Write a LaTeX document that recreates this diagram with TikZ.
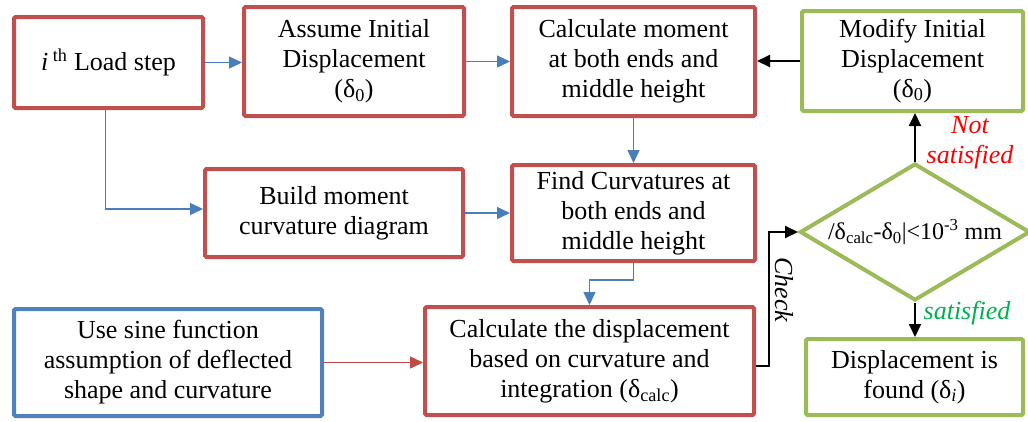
\documentclass[tikz,border=0pt]{standalone}
\usepackage{fontspec}
\setmainfont{Liberation Serif}
\newfontfamily\diagramfont{Liberation Serif}
\usetikzlibrary{arrows.meta,shapes.geometric}
\definecolor{boxred}{HTML}{C0504D}
\definecolor{boxblue}{HTML}{4F81BD}
\definecolor{boxgreen}{HTML}{9BBB59}
\definecolor{arrblue}{HTML}{4A7EBB}
\definecolor{arrred}{HTML}{BE4B48}
\definecolor{okgreen}{HTML}{00B050}
\definecolor{nored}{HTML}{FF0000}
\newcommand\boxfont{\diagramfont\fontsize{26}{30}\selectfont}
% centred block of lines
\newcommand\ctrlines[1]{\begin{tabular}{@{}c@{}}#1\end{tabular}}
\tikzset{
  stepbox/.style={draw=#1, line width=4pt, rounded corners=1.5pt, fill=white,
    inner sep=0pt, font=\boxfont},
  decision/.style={draw=boxgreen, line width=4pt, diamond, aspect=1.7,
    inner sep=0pt, font=\diagramfont\fontsize{24}{28}\selectfont},
  flowblue/.style={draw=arrblue, line width=1.5pt,
    -{Triangle[length=13pt,width=12pt]}},
  flowred/.style={draw=arrred, line width=1.5pt,
    -{Triangle[length=13pt,width=12pt]}},
  flowblack/.style={draw=black, line width=2pt,
    -{Triangle[length=13pt,width=12pt]}},
  tag/.style={font=\boxfont\itshape}
}
\begin{document}
\begin{tikzpicture}[x=1pt,y=-1pt]
\useasboundingbox (0,0) rectangle (1028,421);

% process boxes
\node[stepbox=boxred, minimum width=189, minimum height=91] (load) at (108.5,62.5)
  {\textit{i}\textsuperscript{ th} Load step};
\node[stepbox=boxred, minimum width=220, minimum height=109] (assume) at (354,61.5)
  {\ctrlines{Assume Initial\\Displacement\\(δ\textsubscript{0})}};
\node[stepbox=boxred, minimum width=243, minimum height=109] (moment) at (633.5,61.5)
  {\ctrlines{Calculate moment\\at both ends and\\middle height}};
\node[stepbox=boxgreen, minimum width=221, minimum height=100] (modify) at (912.5,61)
  {\ctrlines{Modify Initial\\Displacement\\(δ\textsubscript{0})}};
\node[stepbox=boxred, minimum width=258, minimum height=88] (build) at (334,213)
  {\ctrlines{Build moment\\curvature diagram}};
\node[stepbox=boxred, minimum width=243, minimum height=96] (curv) at (633.5,213)
  {\ctrlines{Find Curvatures at\\both ends and\\middle height}};
\node[stepbox=boxred, minimum width=329, minimum height=108] (calc) at (589.5,361)
  {\ctrlines{Calculate the displacement\\based on curvature and\\integration (δ\textsubscript{calc})}};
\node[stepbox=boxblue, minimum width=308, minimum height=107] (sine) at (168,362.5)
  {\ctrlines{Use sine function\\assumption of deflected\\shape and curvature}};
\node[stepbox=boxgreen, minimum width=217, minimum height=76] (found) at (914.5,377)
  {\ctrlines{Displacement is\\found (δ\textsubscript{\textit{i}})}};

% convergence test
\node[decision, minimum width=230, minimum height=137] (test) at (915,232)
  {/δ\textsubscript{calc}-δ\textsubscript{0}|<10\textsuperscript{-3} mm};

% connectors
\draw[flowblue] (load.east) -- (load.east -| assume.west);
\draw[flowblue] (assume.east) -- (assume.east -| moment.west);
\draw[flowblack] (modify.west) -- (modify.west -| moment.east);
\draw[flowblue] ([xshift=-3pt]load.south) |- ([yshift=4pt]build.west);
\draw[flowblue] (build.east) -- (build.east -| curv.west);
\draw[flowblue] (moment.south) -- (curv.north);
\draw[flowblue] (curv.south) -- ++(0,17) -| (calc.north);
\draw[flowred] (sine.east) -- (sine.east -| calc.west);
\draw[flowblack] ([yshift=-5pt]calc.east) -- ++(13,0) |- (test.west);
\draw[flowblack] (test.north) -- (test.north |- modify.south);
\draw[flowblack] (test.south) -- (test.south |- found.north);

% branch labels
\node[tag, text=nored] (notsat) at (970,142) {\ctrlines{Not\\satisfied}};
\node[tag, text=okgreen] (sat) at (967,313) {satisfied};
\node[tag, rotate=-90] (check) at (784,290) {Check};
\end{tikzpicture}
\end{document}
